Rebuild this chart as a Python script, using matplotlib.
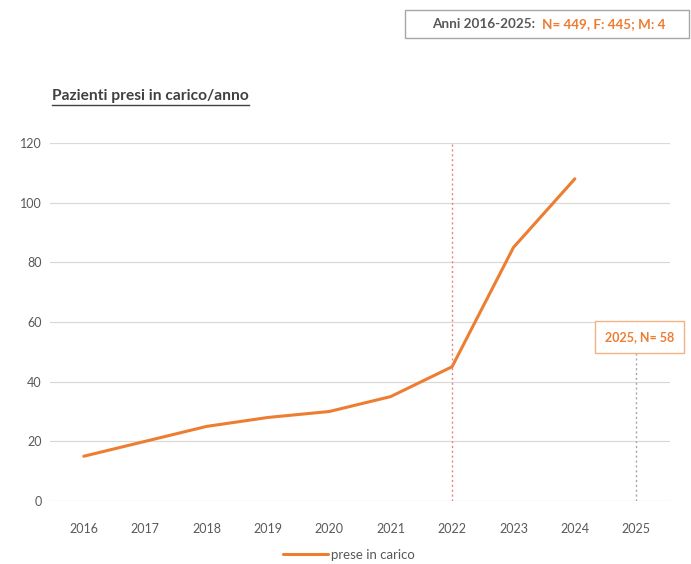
import matplotlib.pyplot as plt
from matplotlib.lines import Line2D
from matplotlib.patches import Rectangle

plt.rcParams['font.family'] = ['Lato', 'DejaVu Sans']

# patients taken in charge per year
years = ['2016', '2017', '2018', '2019', '2020', '2021', '2022', '2023', '2024', '2025']
presi = [15, 20, 25, 28, 30, 35, 45, 85, 108]
n_2025 = 58
totale, femmine, maschi = 449, 445, 4

orange = '#ED7D31'
grey_txt = '#595959'

fig = plt.figure(figsize=(6.91, 5.64), dpi=100)
W, H = 691, 564
ax = fig.add_axes([50 / W, (H - 501) / H, 620 / W, (501 - 143) / H])

x = list(range(len(years)))
ax.plot(x[:len(presi)], presi, color=orange, lw=2.2, label='prese in carico', solid_capstyle='round')

ax.set_xlim(-0.55, len(years) - 0.45)
ax.set_ylim(0, 120)
ax.set_yticks(range(0, 121, 20))
ax.set_xticks(x)
ax.set_xticklabels(years)
ax.grid(axis='y', color='#d9d9d9', lw=0.9)
ax.set_axisbelow(True)
for s in ax.spines.values():
    s.set_visible(False)
ax.tick_params(length=0, colors=grey_txt, labelsize=9)
ax.tick_params(axis='x', pad=16)
ax.tick_params(axis='y', pad=6)

# marker for 2022
ax.plot([6, 6], [0, 120], color='#f08080', lw=1, ls=(0, (1.5, 2)))

# 2025 total, not on the line
ax.plot([9, 9], [0, 50.5], color='#a6a6a6', lw=1, ls=(0, (1.5, 2)))
ax.text(9.05, 55, f'{years[-1]}, N= {n_2025}', color=orange, fontsize=9, fontweight='bold',
        ha='center', va='center', clip_on=False,
        bbox=dict(boxstyle='square,pad=0.8', fc='white', ec='#f4b183', lw=1))

leg = ax.legend(loc='upper center', bbox_to_anchor=(0.482, -0.1), frameon=False, fontsize=9.5,
                handlelength=3.4, handletextpad=0.2)
for t in leg.get_texts():
    t.set_color(grey_txt)

# title with underline
title = fig.text(52 / W, 1 - 96 / H, 'Pazienti presi in carico/anno', fontsize=11.2,
                 fontweight='bold', color='#404040', va='center', ha='left')

# summary box top right
fig.patches.append(Rectangle((405 / W, 1 - 38 / H), 284 / W, 28 / H, transform=fig.transFigure,
                             fill=False, ec='#a6a6a6', lw=1))
t1 = fig.text(432 / W, 1 - 24 / H, 'Anni 2016-2025:  ', fontsize=9.7, fontweight='bold',
              color=grey_txt, va='center', ha='left')

fig.canvas.draw()
r = fig.canvas.get_renderer()
bb = title.get_window_extent(r)
fig.add_artist(Line2D([bb.x0 / W, bb.x1 / W], [(bb.y0 - 2) / H, (bb.y0 - 2) / H],
                      color='#404040', lw=1, transform=fig.transFigure))
b1 = t1.get_window_extent(r)
fig.text(b1.x1 / W, 1 - 24 / H, f'N= {totale}, F: {femmine}; M: {maschi}', fontsize=9.7,
         fontweight='bold', color=orange, va='center', ha='left')

fig.savefig('out.png', dpi=100)
